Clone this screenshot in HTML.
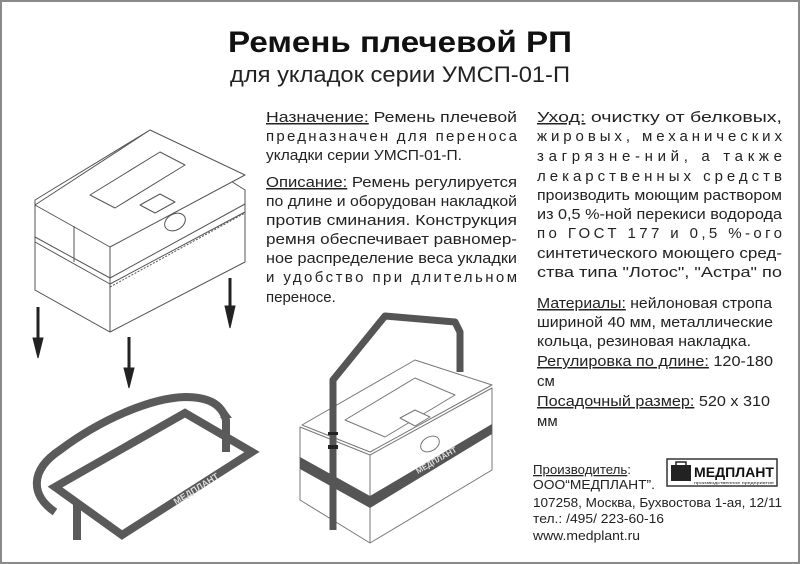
<!DOCTYPE html>
<html><head><meta charset="utf-8"><style>
html,body{margin:0;padding:0;background:#fff}
svg{display:block}
text{font-family:"Liberation Sans","DejaVu Sans",sans-serif;fill:#222}
.u{text-decoration:underline}
</style></head><body>
<svg width="800" height="564" viewBox="0 0 800 564" xmlns="http://www.w3.org/2000/svg">
<rect x="1" y="1" width="798" height="562" fill="#fff" stroke="#8a8a8a" stroke-width="2"/>
<text x="228" y="52" font-size="30" font-weight="bold" textLength="344" lengthAdjust="spacingAndGlyphs" style="fill:#111">Ремень плечевой РП</text>
<text x="230" y="82" font-size="22" textLength="340" lengthAdjust="spacingAndGlyphs">для укладок серии УМСП-01-П</text>

<g font-size="15">
<text x="266" y="122" textLength="251" lengthAdjust="spacingAndGlyphs"><tspan class="u">Назначение:</tspan> Ремень плечевой</text>
<text x="266" y="141" textLength="251" lengthAdjust="spacing">предназначен для переноса</text>
<text x="266" y="160" textLength="196" lengthAdjust="spacingAndGlyphs">укладки серии УМСП-01-П.</text>
<text x="266" y="187" textLength="251" lengthAdjust="spacingAndGlyphs"><tspan class="u">Описание:</tspan> Ремень регулируется</text>
<text x="266" y="206" textLength="251" lengthAdjust="spacingAndGlyphs">по длине и оборудован накладкой</text>
<text x="266" y="225" textLength="251" lengthAdjust="spacingAndGlyphs">против сминания. Конструкция</text>
<text x="266" y="244" textLength="251" lengthAdjust="spacingAndGlyphs">ремня обеспечивает равномер-</text>
<text x="266" y="263" textLength="251" lengthAdjust="spacingAndGlyphs">ное распределение веса укладки</text>
<text x="266" y="282" textLength="251" lengthAdjust="spacing">и удобство при длительном</text>
<text x="266" y="302">переносе.</text>

<text x="537" y="122" textLength="245" lengthAdjust="spacingAndGlyphs"><tspan class="u">Уход:</tspan> очистку от белковых,</text>
<text x="537" y="141" textLength="245" lengthAdjust="spacing">жировых, механических</text>
<text x="537" y="161" textLength="245" lengthAdjust="spacing">загрязне-ний, а также</text>
<text x="537" y="181" textLength="245" lengthAdjust="spacing">лекарственных средств</text>
<text x="537" y="200" textLength="245" lengthAdjust="spacingAndGlyphs">производить моющим раствором</text>
<text x="537" y="219" textLength="245" lengthAdjust="spacingAndGlyphs">из 0,5 %-ной перекиси водорода</text>
<text x="537" y="238" textLength="245" lengthAdjust="spacing">по ГОСТ 177 и 0,5 %-ого</text>
<text x="537" y="258" textLength="245" lengthAdjust="spacingAndGlyphs">синтетического моющего сред-</text>
<text x="537" y="277" textLength="245" lengthAdjust="spacingAndGlyphs">ства типа "Лотос", "Астра" по</text>
<text x="537" y="308" textLength="235" lengthAdjust="spacingAndGlyphs"><tspan class="u">Материалы:</tspan> нейлоновая стропа</text>
<text x="537" y="327" textLength="236" lengthAdjust="spacingAndGlyphs">шириной 40 мм, металлические</text>
<text x="537" y="346" textLength="214" lengthAdjust="spacingAndGlyphs">кольца, резиновая накладка.</text>
<text x="537" y="366" textLength="236" lengthAdjust="spacingAndGlyphs"><tspan class="u">Регулировка по длине:</tspan> 120-180</text>
<text x="537" y="386">см</text>
<text x="537" y="406" textLength="233" lengthAdjust="spacingAndGlyphs"><tspan class="u">Посадочный размер:</tspan> 520 х 310</text>
<text x="537" y="426">мм</text>
</g>

<g font-size="13">
<text x="533" y="474" textLength="98" lengthAdjust="spacingAndGlyphs"><tspan class="u">Производитель</tspan>:</text>
<text x="533" y="489" textLength="122" lengthAdjust="spacingAndGlyphs">ООО“МЕДПЛАНТ”.</text>
<text x="533" y="507" textLength="249" lengthAdjust="spacingAndGlyphs">107258, Москва, Бухвостова 1-ая, 12/11</text>
<text x="533" y="523" textLength="131" lengthAdjust="spacingAndGlyphs">тел.: /495/ 223-60-16</text>
<text x="533" y="540" textLength="107" lengthAdjust="spacingAndGlyphs">www.medplant.ru</text>
</g>
<rect x="667" y="459" width="110" height="27" fill="#fff" stroke="#333" stroke-width="1.5"/>
<rect x="671" y="465" width="20" height="16" fill="#222"/>
<rect x="676" y="462" width="10" height="4" fill="none" stroke="#222" stroke-width="1.5"/>
<text x="694" y="477" font-size="14" font-weight="bold" textLength="80" lengthAdjust="spacingAndGlyphs" style="fill:#111">МЕДПЛАНТ</text>
<text x="694" y="484" font-size="4" textLength="80" lengthAdjust="spacingAndGlyphs">производственное предприятие</text>

<!-- Box 1 -->
<g fill="#fff" stroke="#555" stroke-width="1" stroke-linejoin="round">
<polygon points="35,240 110,282 245,208 245,262 110,332 35,290"/>
<polygon points="35,240 110,282 110,332 35,290"/>
<polygon points="35,200 150,130 245,190 245,212 110,284 35,242"/>
<polygon points="35,205 110,247 245,175 150,130"/>
<line x1="110" y1="247" x2="110" y2="284"/>
<line x1="74" y1="226" x2="74" y2="262"/>
<polygon points="90,195 160,152 185,165 115,208"/>
<polygon points="140,205 160,194 175,202 155,213"/>
<ellipse cx="175" cy="222" rx="11" ry="8" transform="rotate(-30 175 222)"/>
<line x1="35" y1="237" x2="110" y2="278"/>
<line x1="110" y1="278" x2="245" y2="204"/>
<line x1="110" y1="287" x2="245" y2="213" stroke-dasharray="2 1.5"/>
</g>
<g fill="#222" stroke="#222">
<line x1="38" y1="307" x2="38" y2="340" stroke-width="3"/><polygon points="33,338 43,338 38,358"/>
<line x1="129" y1="337" x2="129" y2="370" stroke-width="3"/><polygon points="124,368 134,368 129,388"/>
<line x1="230" y1="278" x2="230" y2="308" stroke-width="3"/><polygon points="225,306 235,306 230,328"/>
</g>

<!-- Strap frame -->
<g fill="none" stroke="#5a5a5a" stroke-width="8" stroke-linejoin="miter">
<polygon points="55,487 185,413 252,452 122,535"/>
<path d="M55,512 C30,495 30,470 60,450 C100,420 150,398 185,397 C210,397 222,405 226,420 L226,452"/>
<line x1="77" y1="505" x2="77" y2="540"/>
</g>
<polygon points="220,418 232,418 226,410" fill="#5a5a5a"/>
<text x="0" y="0" font-size="9" font-weight="bold" transform="translate(176,505) rotate(-32)" style="fill:#ddd">МЕДПЛАНТ</text>

<!-- Box 2 -->
<g fill="#fff" stroke="#777" stroke-width="1" stroke-linejoin="round">
<polygon points="300,427 370,455 492,388 492,470 370,543 300,500"/>
<line x1="370" y1="455" x2="370" y2="543"/>
<polygon points="302,425 415,360 492,385 370,452" />
<polygon points="345,420 415,378 455,395 385,437"/>
<polygon points="400,418 415,410 430,417 415,426"/>
<ellipse cx="430" cy="444" rx="10" ry="7" transform="rotate(-30 430 444)"/>
</g>
<polygon points="300,457 370,496 492,424 492,434 370,508 300,469" fill="#555"/>
<text x="0" y="0" font-size="8" font-weight="bold" transform="translate(418,474) rotate(-30)" style="fill:#ddd">МЕДПЛАНТ</text>
<g fill="none" stroke="#555" stroke-width="7" stroke-linejoin="round">
<polyline points="333,530 333,380 385,316 455,322 460,332 460,372"/>
</g>
<rect x="328" y="445" width="10" height="4" fill="#222"/>
<rect x="328" y="432" width="10" height="3" fill="#222"/>
</svg>
</body></html>
